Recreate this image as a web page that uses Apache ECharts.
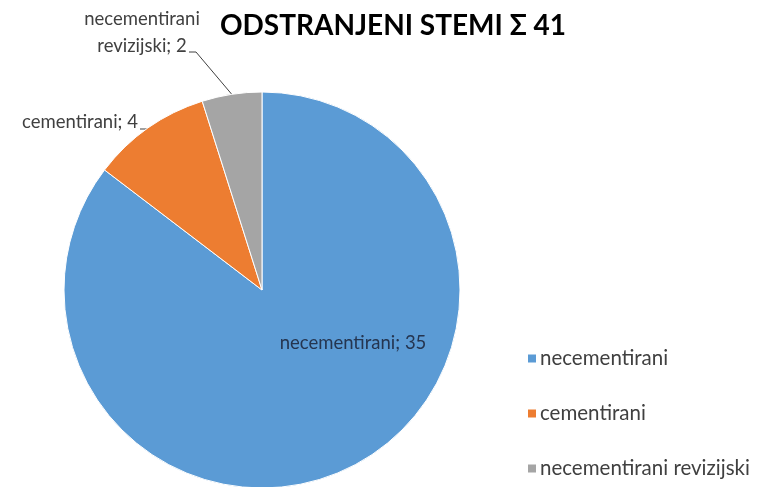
<!DOCTYPE html>
<html>
<head>
<meta charset="utf-8">
<script src="https://cdn.jsdelivr.net/npm/echarts@6/dist/echarts.min.js"></script>
<style>
  html, body { margin: 0; padding: 0; background: #fff; }
  #chart { width: 759px; height: 487px; }
</style>
</head>
<body>
<div id="chart"></div>
<script>
// Removed stems by type
const categories = ['necementirani', 'cementirani', 'necementirani revizijski'];
const counts = [35, 4, 2];
const colors = ['#5B9BD5', '#ED7D31', '#A5A5A5'];
const titleText = 'ODSTRANJENI STEMI \u03A3 41';

const FONT = 'Lato, "Open Sans", sans-serif';

const chart = echarts.init(document.getElementById('chart'), null, { renderer: 'canvas' });

const data = categories.map((name, i) => ({
  name: name,
  value: counts[i],
  itemStyle: { color: colors[i] },
  label: i === 0 ? { color: '#253550' } : {},
  labelLine: { show: i !== 0 }
}));

chart.setOption({
  animation: false,
  backgroundColor: '#fff',
  title: {
    text: titleText,
    left: 388,
    top: 7,
    textAlign: 'center',
    textStyle: { fontFamily: FONT, fontWeight: 'bold', fontSize: 28, color: '#000' }
  },
  legend: {
    orient: 'vertical',
    left: 521,
    top: 343,
    itemWidth: 10,
    itemHeight: 10,
    itemGap: 34,
    icon: 'rect',
    data: categories,
    textStyle: { fontFamily: FONT, fontSize: 20.5, color: '#404040', padding: [0, 0, 0, -2] }
  },
  series: [{
    type: 'pie',
    center: [262, 290],
    radius: 198,
    startAngle: 90,
    clockwise: true,
    avoidLabelOverlap: false,
    itemStyle: { borderColor: '#fff', borderWidth: 1 },
    label: {
      show: true,
      position: 'outside',
      formatter: function (p) {
        return p.dataIndex === 2 ? 'necementirani\nrevizijski; ' + p.value : p.name + '; ' + p.value;
      },
      fontFamily: FONT,
      fontSize: 18.5,
      lineHeight: 27,
      color: '#404040',
      align: 'center'
    },
    labelLine: { lineStyle: { color: '#404040', width: 1 }, length: 5, length2: 5 },
    labelLayout: function (p) {
      const edge = p.labelLinePoints ? p.labelLinePoints[0] : null;
      if (p.dataIndex === 0) {
        return { x: 353, y: 343, align: 'center', verticalAlign: 'middle' };
      }
      if (p.dataIndex === 1) {
        return {
          x: 80, y: 122, align: 'center', verticalAlign: 'middle',
          labelLinePoints: edge ? [edge, [148, 129], [140, 129]] : undefined
        };
      }
      return {
        x: 142, y: 33, align: 'center', verticalAlign: 'middle',
        labelLinePoints: edge ? [edge, [196, 52], [189, 52]] : undefined
      };
    },
    data: data
  }]
});
</script>
</body>
</html>
